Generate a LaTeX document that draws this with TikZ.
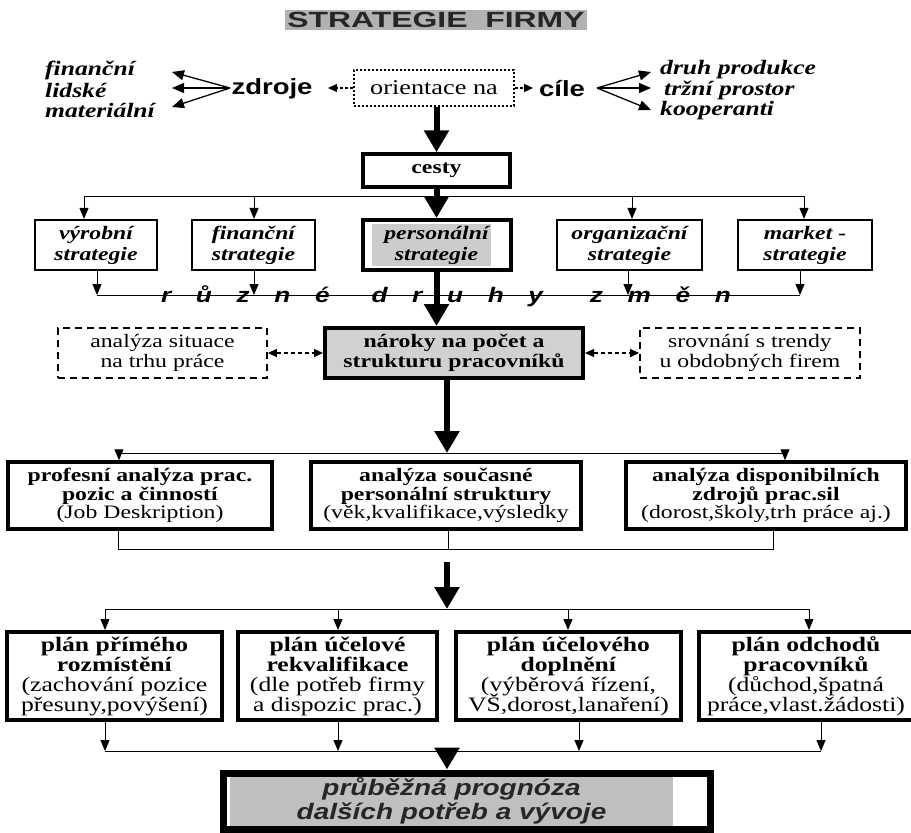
\documentclass[tikz,border=0pt]{standalone}
\usepackage{fontspec}
\setmainfont{Liberation Serif}[FakeStretch=1.25]
\setsansfont{Liberation Sans}[FakeStretch=1.25]
\newfontfamily\titlefont{Liberation Sans}[FakeStretch=1.45]
\usetikzlibrary{arrows.meta}
\newcommand\setfs[2]{\fontsize{#1}{#2}\selectfont\lineskiplimit=-30pt\relax}
\tikzset{
 tarrow/.style={line width=6pt, -{Triangle[width=24pt,length=22pt]}},
 narrow/.style={line width=1pt, -{Triangle[width=9pt,length=11pt]}},
 nline/.style={line width=1pt},
 fan/.style={line width=1.3pt, -{Triangle[width=10pt,length=12pt]}},
 dasharr/.style={line width=1.2pt, dash pattern=on 3pt off 2pt, -{Triangle[width=8pt,length=9pt]}},
 dasharrb/.style={line width=1.2pt, dash pattern=on 4pt off 3pt, {Triangle[width=8pt,length=9pt]}-{Triangle[width=8pt,length=9pt]}},
 strat/.style={draw, line width=2.2pt, minimum height=50pt, font=\bfseries\itshape\setfs{19}{21}},
 abox/.style={draw, line width=3.5pt, minimum height=67pt, font=\setfs{19}{18.5}},
 pbox/.style={draw, line width=4pt, minimum height=88pt, font=\setfs{20.5}{20}},
 dbox/.style={draw, line width=1.8pt, dash pattern=on 7pt off 5pt, minimum height=50pt, font=\setfs{19}{20}},
 listl/.style={anchor=west, font=\bfseries\itshape\setfs{20.5}{20}},
 sanslab/.style={font=\sffamily\bfseries\setfs{22}{22}},
}
\begin{document}
\begin{tikzpicture}[x=1pt,y=-1pt, every node/.style={inner sep=0pt, align=center}]
\useasboundingbox (0,0) rectangle (911,833);
\fill[white] (0,0) rectangle (911,833);

% title
\node[fill=black!30, inner xsep=2pt, inner ysep=2pt, font=\titlefont\bfseries\setfs{22}{24}, text=black!85] (title) at (436,20) {STRATEGIE\ \ FIRMY};

% row 2
\node[listl] (fin) at (45,70) {finanční};
\node[listl] (lid) at (45,90) {lidské};
\node[listl] (mat) at (45,110) {materiální};
\node[sanslab] (zdroje) at (272,89) {zdroje};
\node[draw, line width=2pt, dash pattern=on 2pt off 2pt, minimum width=160pt, minimum height=36pt, font=\setfs{21}{22}] (orient) at (434,88) {orientace na};
\node[sanslab] (cile) at (562,89) {cíle};
\node[listl] (druh) at (660,70) {druh produkce};
\node[listl] (trzni) at (664,90) {tržní prostor};
\node[listl] (koop) at (660,111) {kooperanti};

\coordinate (zap) at (230,88);
\coordinate (zt1) at (172,72);
\coordinate (zt2) at (172,88);
\coordinate (zt3) at (172,107);
\draw[fan] (zap) -- (zt1);
\draw[fan] (zap) -- (zt2);
\draw[fan] (zap) -- (zt3);
\coordinate (cap) at (597,88);
\coordinate (ct1) at (651,72);
\coordinate (ct2) at (651,88);
\coordinate (ct3) at (651,110);
\draw[fan] (cap) -- (ct1);
\draw[fan] (cap) -- (ct2);
\draw[fan] (cap) -- (ct3);
\coordinate (ozl) at (328,88);
\coordinate (ozr) at (533,88);
\draw[dasharr] (orient.west) -- (ozl);
\draw[dasharr] (orient.east) -- (ozr);

% cesty
\node[draw, line width=3.5pt, minimum width=147pt, minimum height=33pt, font=\bfseries\setfs{19}{21}] (cesty) at (436.5,170.5) {cesty};
\draw[tarrow] (orient.south -| cesty.north) -- (cesty.north);

% strategies
\fill[black!20] (372,224) rectangle (491,266);
\node[strat, minimum width=122pt] (S1) at (96,245) {výrobní\\strategie};
\node[strat, minimum width=123pt] (S2) at (253.5,245) {finanční\\strategie};
\node[strat, line width=4pt, minimum width=148pt] (S3) at (436.5,245) {personální\\strategie};
\node[strat, minimum width=145pt] (S4) at (629.5,245) {organizační\\strategie};
\node[strat, minimum width=134pt] (S5) at (805,245) {market -\\strategie};

\coordinate (sb1) at (84,196);
\coordinate (sb2) at (254,196);
\coordinate (sb4) at (632,196);
\coordinate (sb5) at (804,196);
\draw[nline] (sb1) -- (sb5);
\draw[narrow] (sb1) -- (sb1 |- S1.north);
\draw[narrow] (sb2) -- (sb2 |- S2.north);
\draw[narrow] (sb4) -- (sb4 |- S4.north);
\draw[narrow] (sb5) -- (sb5 |- S5.north);
\draw[tarrow] (cesty.south) -- (S3.north);

\coordinate (sd1) at (97,295);
\coordinate (sd2) at (254,295);
\coordinate (sd4) at (628,295);
\coordinate (sd5) at (800,295);
\draw[nline] (sd1) -- (sd5);
\draw[narrow] (sd1 |- S1.south) -- (sd1);
\draw[narrow] (sd2 |- S2.south) -- (sd2);
\draw[narrow] (sd4 |- S4.south) -- (sd4);
\draw[narrow] (sd5 |- S5.south) -- (sd5);

% nároky row
\node[draw, line width=4pt, fill=black!18, minimum width=258pt, minimum height=50pt, font=\bfseries\setfs{19}{20}] (N) at (454,353) {nároky na počet a\\strukturu pracovníků};
\node[dbox, minimum width=209pt] (L) at (162.5,353) {analýza situace\\na trhu práce};
\node[dbox, minimum width=220pt] (R) at (750,353) {srovnání s trendy\\u obdobných firem};
\draw[dasharrb] (L.east) -- (N.west);
\draw[dasharrb] (N.east) -- (R.west);
\draw[tarrow] (S3.south) -- (S3.south |- N.north);

\node[font=\sffamily\bfseries\itshape\setfs{21}{21}] (zmeny) at (446,296) {\makebox[570pt][s]{r\hspace{0pt plus 1fil}ů\hspace{0pt plus 1fil}z\hspace{0pt plus 1fil}n\hspace{0pt plus 1fil}é\hspace{0pt plus 1.7fil}d\hspace{0pt plus 1fil}r\hspace{0pt plus 1fil}u\hspace{0pt plus 1fil}h\hspace{0pt plus 1fil}y\hspace{0pt plus 1.9fil}z\hspace{0pt plus 1fil}m\hspace{0pt plus 1fil}ě\hspace{0pt plus 1fil}n}};

% analysis row
\node[abox, minimum width=264pt] (A1) at (140,495.5) {\textbf{profesní analýza prac.}\\\textbf{pozic a činností}\\(Job Deskription)};
\node[abox, minimum width=270pt] (A2) at (446,495.5) {\textbf{analýza současné}\\\textbf{personální struktury}\\(věk,kvalifikace,výsledky};
\node[abox, minimum width=280pt] (A3) at (766,495.5) {\textbf{analýza disponibilních}\\\textbf{zdrojů prac.sil}\\(dorost,školy,trh práce aj.)};

\coordinate (ab) at (447,453);
\coordinate (ab1) at (119,453);
\coordinate (ab3) at (785,453);
\draw[nline] (ab1) -- (ab3);
\draw[narrow] (ab1) -- (ab1 |- A1.north);
\draw[narrow] (ab3) -- (ab3 |- A3.north);
\draw[tarrow] (ab |- N.south) -- (ab);

\coordinate (ac1) at (118,549);
\coordinate (ac2) at (448,549);
\coordinate (ac3) at (773,549);
\draw[nline] (ac1 |- A1.south) -- (ac1) -- (ac3) -- (ac3 |- A3.south);
\draw[nline] (ac2 |- A2.south) -- (ac2);

% plans row
\node[pbox, minimum width=215pt] (P1) at (114.5,676) {\textbf{plán přímého}\\\textbf{rozmístění}\\(zachování pozice\\přesuny,povýšení)};
\node[pbox, minimum width=199pt] (P2) at (337.5,676) {\textbf{plán účelové}\\\textbf{rekvalifikace}\\(dle potřeb firmy\\a dispozic prac.)};
\node[pbox, minimum width=225pt] (P3) at (568.5,676) {\textbf{plán účelového}\\\textbf{doplnění}\\(výběrová řízení,\\VŠ,dorost,lanaření)};
\node[pbox, minimum width=214pt] (P4) at (806,676) {\textbf{plán odchodů}\\\textbf{pracovníků}\\(důchod,špatná\\práce,vlast.žádosti)};

\coordinate (pt0) at (447,562);
\coordinate (pb) at (447,609);
\draw[tarrow] (pt0) -- (pb);
\coordinate (pb1) at (105,609);
\coordinate (pb2) at (338,609);
\coordinate (pb3) at (568,609);
\coordinate (pb4) at (809,609);
\draw[nline] (pb1) -- (pb4);
\draw[narrow] (pb1) -- (pb1 |- P1.north);
\draw[narrow] (pb2) -- (pb2 |- P2.north);
\draw[narrow] (pb3) -- (pb3 |- P3.north);
\draw[narrow] (pb4) -- (pb4 |- P4.north);

\coordinate (pc1) at (105,751);
\coordinate (pc2) at (338,751);
\coordinate (pc3) at (579,751);
\coordinate (pc4) at (821,751);
\draw[nline] (pc1) -- (pc4);
\draw[narrow] (pc1 |- P1.south) -- (pc1);
\draw[narrow] (pc2 |- P2.south) -- (pc2);
\draw[narrow] (pc3 |- P3.south) -- (pc3);
\draw[narrow] (pc4 |- P4.south) -- (pc4);

% final
\node[fill=black!25, minimum width=443pt, minimum height=50pt, font=\sffamily\bfseries\itshape\setfs{22.4}{24}, text=black!85] (Ftext) at (451.5,801) {průběžná prognóza\\dalších potřeb a vývoje};
\node[draw, line width=7pt, minimum width=487pt, minimum height=56pt] (F) at (466.5,801) {};
\coordinate (fb) at (447,751);
\draw[tarrow] (fb) -- (fb |- F.north);
\end{tikzpicture}
\end{document}
